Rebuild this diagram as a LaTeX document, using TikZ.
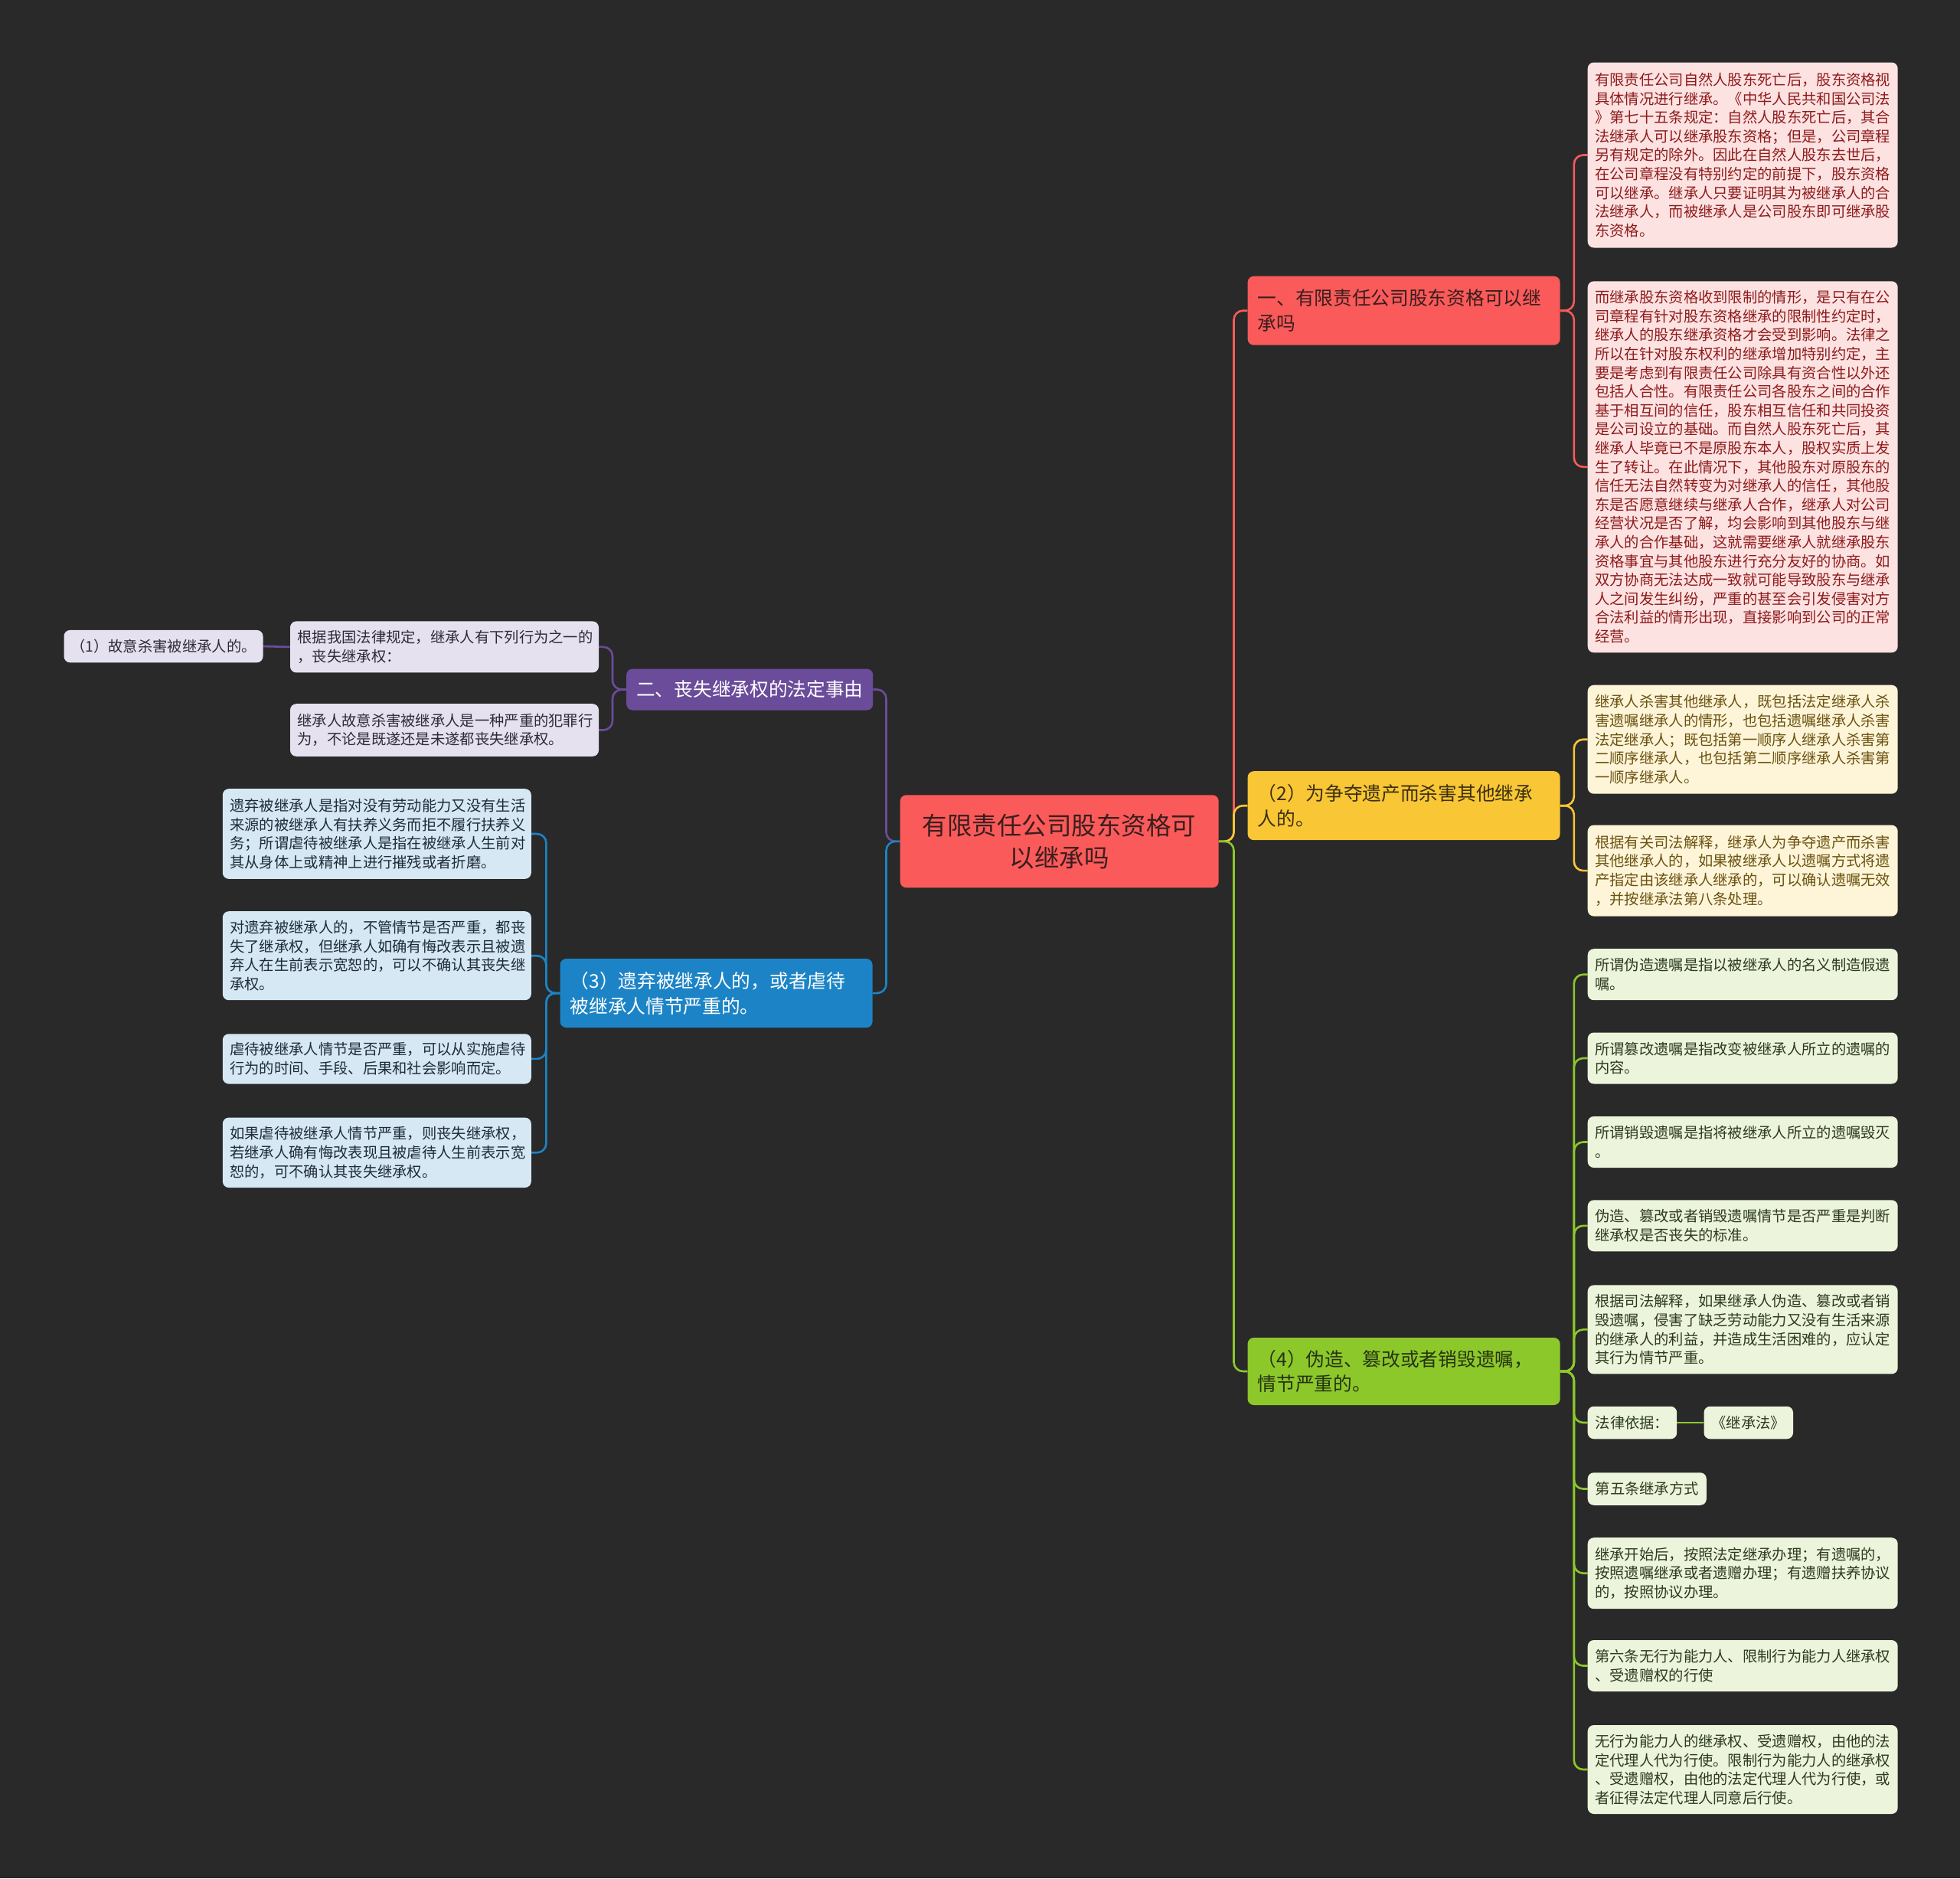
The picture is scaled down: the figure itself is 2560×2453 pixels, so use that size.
\documentclass[tikz,border=0pt]{standalone}
\usepackage{fontspec}
\setmainfont{Noto Sans CJK SC}
\definecolor{bgc}{HTML}{292929}
\definecolor{redN}{HTML}{FA5A5A}
\definecolor{yelN}{HTML}{F9C635}
\definecolor{grnN}{HTML}{8DC82B}
\definecolor{purN}{HTML}{6B4C9A}
\definecolor{bluN}{HTML}{1C84C6}
\definecolor{pinkF}{HTML}{FDE2E2}
\definecolor{pinkT}{HTML}{8E1B1B}
\definecolor{yelF}{HTML}{FEF5D9}
\definecolor{yelT}{HTML}{6B5210}
\definecolor{grnF}{HTML}{ECF5DC}
\definecolor{grnT}{HTML}{2D3A1E}
\definecolor{lavF}{HTML}{E6E1EF}
\definecolor{lavT}{HTML}{2E2A38}
\definecolor{bluF}{HTML}{D5E8F4}
\definecolor{bluT}{HTML}{1F2B38}
\definecolor{redT}{HTML}{3A1E1E}
\definecolor{yelTT}{HTML}{3B3010}
\definecolor{grnTT}{HTML}{263310}
\pgfdeclarelayer{bg}
\pgfsetlayers{bg,main}
\tikzset{
  base/.style={rounded corners=8pt, inner xsep=10pt, inner ysep=4pt, anchor=west, align=left},
  leaf/.style={base, font=\fontsize{19.3}{24.6}\selectfont, text width=386pt, minimum width=405pt, inner xsep=9.5pt},
  sleaf/.style={base, font=\fontsize{19.3}{24.6}\selectfont},
  pinkleaf/.style={leaf, fill=pinkF, text=pinkT},
  yelleaf/.style={leaf, fill=yelF, text=yelT},
  grnleaf/.style={leaf, fill=grnF, text=grnT},
  lavleaf/.style={leaf, fill=lavF, text=lavT, text width=384pt, minimum width=403pt},
  bluleaf/.style={leaf, fill=bluF, text=bluT, text width=384pt, minimum width=403pt},
  topic/.style={base, inner xsep=13pt, font=\fontsize{24.7}{32.7}\selectfont, text width=382pt, minimum width=408pt},
  conn/.style={line width=2.6pt, rounded corners=12pt},
}
\begin{document}
\begin{tikzpicture}[x=1pt, y=-1pt]
\useasboundingbox (0,0) rectangle (2560,2453);
\begin{pgfonlayer}{bg}
\fill[bgc] (0,0) rectangle (2560,2453);
\end{pgfonlayer}

% central topic
\node[base, inner xsep=13pt, fill=redN, text=redT, font=\fontsize{32.5}{42}\selectfont, text width=390pt, minimum width=416pt, minimum height=121pt, align=center] (C) at (1175.5,1098.8) {有限责任公司股东资格可\\以继承吗};

% main branches
\node[topic, fill=redN, text=redT, minimum height=90pt] (R1) at (1629.4,405.7) {一、有限责任公司股东资格可以继\\承吗};
\node[topic, fill=yelN, text=yelTT, minimum height=90pt] (R2) at (1629.4,1052.2) {（2）为争夺遗产而杀害其他继承\\人的。};
\node[topic, fill=grnN, text=grnTT, minimum height=88pt] (R3) at (1629.4,1791) {（4）伪造、篡改或者销毁遗嘱，\\情节严重的。};
\node[topic, fill=purN, text=white, text width=296pt, minimum width=322pt, minimum height=54pt] (L1) at (818,900.5) {二、丧失继承权的法定事由};
\node[topic, fill=bluN, text=white, minimum height=90pt] (L2) at (731.4,1297.1) {（3）遗弃被继承人的，或者虐待\\被继承人情节严重的。};

% pink leaves
\node[pinkleaf, minimum height=242pt] (P1) at (2073.5,202.5) {有限责任公司自然人股东死亡后，股东资格视\\具体情况进行继承。《中华人民共和国公司法\\》第七十五条规定：自然人股东死亡后，其合\\法继承人可以继承股东资格；但是，公司章程\\另有规定的除外。因此在自然人股东去世后，\\在公司章程没有特别约定的前提下，股东资格\\可以继承。继承人只要证明其为被继承人的合\\法继承人，而被继承人是公司股东即可继承股\\东资格。};
\node[pinkleaf, minimum height=485pt] (P2) at (2073.5,609.8) {而继承股东资格收到限制的情形，是只有在公\\司章程有针对股东资格继承的限制性约定时，\\继承人的股东继承资格才会受到影响。法律之\\所以在针对股东权利的继承增加特别约定，主\\要是考虑到有限责任公司除具有资合性以外还\\包括人合性。有限责任公司各股东之间的合作\\基于相互间的信任，股东相互信任和共同投资\\是公司设立的基础。而自然人股东死亡后，其\\继承人毕竟已不是原股东本人，股权实质上发\\生了转让。在此情况下，其他股东对原股东的\\信任无法自然转变为对继承人的信任，其他股\\东是否愿意继续与继承人合作，继承人对公司\\经营状况是否了解，均会影响到其他股东与继\\承人的合作基础，这就需要继承人就继承股东\\资格事宜与其他股东进行充分友好的协商。如\\双方协商无法达成一致就可能导致股东与继承\\人之间发生纠纷，严重的甚至会引发侵害对方\\合法利益的情形出现，直接影响到公司的正常\\经营。};

% yellow leaves
\node[yelleaf, minimum height=142pt] (Y1) at (2073.5,965.7) {继承人杀害其他继承人，既包括法定继承人杀\\害遗嘱继承人的情形，也包括遗嘱继承人杀害\\法定继承人；既包括第一顺序人继承人杀害第\\二顺序继承人，也包括第二顺序继承人杀害第\\一顺序继承人。};
\node[yelleaf, minimum height=119pt] (Y2) at (2073.5,1137.1) {根据有关司法解释，继承人为争夺遗产而杀害\\其他继承人的，如果被继承人以遗嘱方式将遗\\产指定由该继承人继承的，可以确认遗嘱无效\\，并按继承法第八条处理。};

% green leaves
\node[grnleaf, minimum height=67pt] (G1) at (2073.5,1272.7) {所谓伪造遗嘱是指以被继承人的名义制造假遗\\嘱。};
\node[grnleaf, minimum height=67pt] (G2) at (2073.5,1382) {所谓篡改遗嘱是指改变被继承人所立的遗嘱的\\内容。};
\node[grnleaf, minimum height=67pt] (G3) at (2073.5,1491.5) {所谓销毁遗嘱是指将被继承人所立的遗嘱毁灭\\。};
\node[grnleaf, minimum height=67pt] (G4) at (2073.5,1600.8) {伪造、篡改或者销毁遗嘱情节是否严重是判断\\继承权是否丧失的标准。};
\node[grnleaf, minimum height=116pt] (G5) at (2073.5,1736.4) {根据司法解释，如果继承人伪造、篡改或者销\\毁遗嘱，侵害了缺乏劳动能力又没有生活来源\\的继承人的利益，并造成生活困难的，应认定\\其行为情节严重。};
\node[sleaf, fill=grnF, text=grnT, minimum height=42.5pt] (G6) at (2073.5,1858) {法律依据：};
\node[sleaf, fill=grnF, text=grnT, minimum height=42.5pt] (G6c) at (2225.3,1858) {《继承法》};
\node[sleaf, fill=grnF, text=grnT, minimum height=42.5pt] (G7) at (2073.5,1944.5) {第五条继承方式};
\node[grnleaf, minimum height=93pt] (G8) at (2073.5,2054.7) {继承开始后，按照法定继承办理；有遗嘱的，\\按照遗嘱继承或者遗赠办理；有遗赠扶养协议\\的，按照协议办理。};
\node[grnleaf, minimum height=67pt] (G9) at (2073.5,2175.5) {第六条无行为能力人、限制行为能力人继承权\\、受遗赠权的行使};
\node[grnleaf, minimum height=116pt] (G10) at (2073.5,2311) {无行为能力人的继承权、受遗赠权，由他的法\\定代理人代为行使。限制行为能力人的继承权\\、受遗赠权，由他的法定代理人代为行使，或\\者征得法定代理人同意后行使。};

% lavender leaves
\node[lavleaf, minimum height=67pt] (LP1) at (378.8,844.9) {根据我国法律规定，继承人有下列行为之一的\\，丧失继承权：};
\node[sleaf, fill=lavF, text=lavT, inner xsep=6pt, minimum width=260pt, minimum height=42.4pt, align=center] (LP1c) at (83.3,844.1) {（1）故意杀害被继承人的。};
\node[lavleaf, minimum height=68.6pt] (LP2) at (378.8,953.5) {继承人故意杀害被继承人是一种严重的犯罪行\\为，不论是既遂还是未遂都丧失继承权。};

% light blue leaves
\node[bluleaf, minimum height=117.6pt] (LB1) at (290.6,1089) {遗弃被继承人是指对没有劳动能力又没有生活\\来源的被继承人有扶养义务而拒不履行扶养义\\务；所谓虐待被继承人是指在被继承人生前对\\其从身体上或精神上进行摧残或者折磨。};
\node[bluleaf, minimum height=116pt] (LB2) at (290.6,1248.2) {对遗弃被继承人的，不管情节是否严重，都丧\\失了继承权，但继承人如确有悔改表示且被遗\\弃人在生前表示宽恕的，可以不确认其丧失继\\承权。};
\node[bluleaf, minimum height=65.3pt] (LB3) at (290.6,1382.9) {虐待被继承人情节是否严重，可以从实施虐待\\行为的时间、手段、后果和社会影响而定。};
\node[bluleaf, minimum height=91.4pt] (LB4) at (290.6,1505.3) {如果虐待被继承人情节严重，则丧失继承权，\\若继承人确有悔改表现且被虐待人生前表示宽\\恕的，可不确认其丧失继承权。};

% connectors
\begin{pgfonlayer}{bg}
\draw[conn, redN] (C.east) -- ++(19.6,0) |- (R1.west);
\draw[conn, yelN] (C.east) -- ++(19.6,0) |- (R2.west);
\draw[conn, grnN] (C.east) -- ++(19.6,0) |- (R3.west);
\draw[conn, purN] (C.west) -- ++(-18,0) |- (L1.east);
\draw[conn, bluN] (C.west) -- ++(-18,0) |- (L2.east);

\foreach \n in {P1,P2} \draw[conn, redN] (R1.east) -- ++(18,0) |- (\n.west);
\foreach \n in {Y1,Y2} \draw[conn, yelN] (R2.east) -- ++(18,0) |- (\n.west);
\foreach \n in {G1,G2,G3,G4,G5,G6,G7,G8,G9,G10} \draw[conn, grnN] (R3.east) -- ++(18,0) |- (\n.west);
\draw[conn, grnN] (G6.east) -- (G6c.west);
\foreach \n in {LP1,LP2} \draw[conn, purN] (L1.west) -- ++(-18,0) |- (\n.east);
\draw[conn, purN] (LP1.west) -- (LP1c.east);
\foreach \n in {LB1,LB2,LB3,LB4} \draw[conn, bluN] (L2.west) -- ++(-18,0) |- (\n.east);
\end{pgfonlayer}
\end{tikzpicture}
\end{document}
